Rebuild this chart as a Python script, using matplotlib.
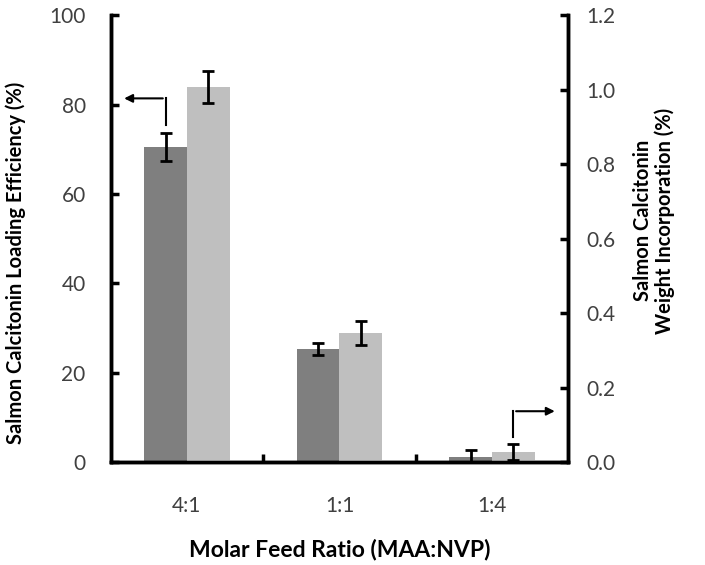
import numpy as np
import matplotlib.pyplot as plt

# data
ratios = ["4:1", "1:1", "1:4"]
loading_eff = [70.5, 25.3, 1.2]        # %, left axis
loading_err = [3.1, 1.3, 1.5]
weight_inc = [1.007, 0.347, 0.027]     # %, right axis
weight_inc_err = [0.042, 0.032, 0.022]

plt.rcParams['font.family'] = ['Lato', 'DejaVu Sans']

fig = plt.figure(figsize=(7.05, 5.65), dpi=100)
ax = fig.add_axes([0.157, 0.182, 0.649, 0.791])
ax2 = ax.twinx()

x = np.arange(len(ratios))
w = 0.28
ekw = dict(elinewidth=2, capthick=2)

ax.bar(x - w / 2, loading_eff, w, color='#7f7f7f', zorder=2)
ax.errorbar(x - w / 2, loading_eff, yerr=loading_err, fmt='none', ecolor='black',
            capsize=4, zorder=3, **ekw)
ax2.bar(x + w / 2, weight_inc, w, color='#bfbfbf', zorder=2)
ax2.errorbar(x + w / 2, weight_inc, yerr=weight_inc_err, fmt='none', ecolor='black',
             capsize=4, zorder=3, **ekw)

ax.set_xlim(-0.5, 2.5)
ax.set_ylim(0, 100)
ax2.set_ylim(0, 1.2)
ax.set_yticks(np.arange(0, 101, 20))
ax2.set_yticks(np.arange(0, 1.21, 0.2))
ax2.set_yticklabels([f"{v:.1f}" for v in np.arange(0, 1.21, 0.2)])

ax.set_xticks(x)
ax.set_xticklabels(ratios)
ax.set_xticks([0.5, 1.5], minor=True)
ax.tick_params(axis='x', which='major', length=0, pad=24, labelsize=15, labelcolor='#404040')
ax.tick_params(axis='x', which='minor', direction='in', length=6, width=2.5)
ax.tick_params(axis='y', direction='in', length=6, width=2.5, pad=18,
               labelsize=15, labelcolor='#404040')
ax2.tick_params(axis='y', direction='in', length=6, width=2.5, pad=13,
                labelsize=15, labelcolor='#404040')

for a in (ax, ax2):
    a.spines['top'].set_visible(False)
    for s in ('left', 'right', 'bottom'):
        a.spines[s].set_linewidth(2.5)

ax.set_xlabel("Molar Feed Ratio (MAA:NVP)", fontsize=16.5, fontweight='bold')
ax.xaxis.set_label_coords(0.5, -0.172)
ax.set_ylabel("Salmon Calcitonin Loading Efficiency (%)", fontsize=14.5, fontweight='bold')
ax.yaxis.set_label_coords(-0.184, 0.447)
ax2.set_ylabel("Salmon Calcitonin\nWeight Incorporation (%)", fontsize=14.5,
               fontweight='bold', rotation=90, linespacing=1.1)
ax2.yaxis.set_label_coords(1.142, 0.54)

# arrows pointing to the matching axis
ax.plot([-0.14, -0.14], [75.4, 81.4], color='black', lw=1.5, zorder=4)
ax.annotate("", xy=(-0.43, 81.4), xytext=(-0.14, 81.4),
            arrowprops=dict(arrowstyle='-|>', color='black', lw=1.5, mutation_scale=12))
ax.plot([2.14, 2.14], [5.6, 11.4], color='black', lw=1.5, zorder=4)
ax.annotate("", xy=(2.43, 11.4), xytext=(2.14, 11.4),
            arrowprops=dict(arrowstyle='-|>', color='black', lw=1.5, mutation_scale=12))

fig.savefig("out.png", dpi=100)
